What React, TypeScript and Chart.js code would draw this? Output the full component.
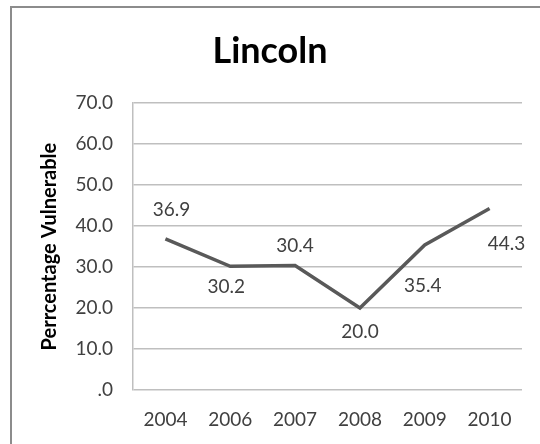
import React, { useEffect, useRef } from "react";
import { Chart, registerables } from "chart.js";

Chart.register(...registerables);

const categories = ["2004", "2006", "2007", "2008", "2009", "2010"];
const values = [36.9, 30.2, 30.4, 20.0, 35.4, 44.3];
const chartTitle = "Lincoln";
const yAxisTitle = "Perrcentage Vulnerable";
const yTickValues = [0, 10, 20, 30, 40, 50, 60, 70];

export default function App() {
  const ref = useRef<HTMLCanvasElement | null>(null);

  useEffect(() => {
    if (!ref.current) return;
    const labelOffsets = [
      [6, -29],
      [-4, 21],
      [0, -20],
      [0, 24],
      [-2, 41],
      [17, 35],
    ];
    const frame = {
      id: "frame",
      beforeDraw(chart: any) {
        const ctx = chart.ctx;
        ctx.save();
        ctx.fillStyle = "#ffffff";
        ctx.fillRect(0, 0, chart.width, chart.height);
        ctx.strokeStyle = "#8c8c8c";
        ctx.lineWidth = 2;
        ctx.strokeRect(11, 7, 700, 700);
        ctx.restore();
      },
    };
    const dataLabels = {
      id: "dataLabels",
      afterDatasetsDraw(chart: any) {
        const ctx = chart.ctx;
        const meta = chart.getDatasetMeta(0);
        ctx.save();
        ctx.font = "19px Lato";
        ctx.fillStyle = "#404040";
        ctx.textAlign = "center";
        ctx.textBaseline = "middle";
        meta.data.forEach((pt: any, i: number) => {
          const v = chart.data.datasets[0].data[i] as number;
          const [dx, dy] = labelOffsets[i];
          ctx.fillText(v.toFixed(1), pt.x + dx, pt.y + dy);
        });
        ctx.restore();
      },
    };
    const chart = new Chart(ref.current, {
      type: "line",
      data: {
        labels: categories,
        datasets: [
          {
            data: values,
            borderColor: "#595959",
            borderWidth: 3.5,
            pointRadius: 0,
            tension: 0,
            fill: false,
          },
        ],
      },
      options: {
        animation: false,
        responsive: false,
        layout: { padding: { top: 0, right: 18, bottom: 0, left: 18 } },
        plugins: {
          legend: { display: false },
          tooltip: { enabled: false },
          title: {
            display: true,
            text: chartTitle,
            color: "#000000",
            font: { family: "Lato", size: 36, weight: "bold", lineHeight: 1.2 },
            padding: { top: 30, bottom: 30 },
          },
        },
        scales: {
          x: {
            offset: true,
            grid: { display: false, drawTicks: false },
            border: { display: false },
            ticks: {
              color: "#404040",
              font: { family: "Lato", size: 19 },
              padding: 18,
              maxRotation: 0,
            },
            afterFit(scale: any) {
              scale.height = 54;
            },
          },
          y: {
            min: 0,
            max: 70,
            afterBuildTicks(scale: any) {
              scale.ticks = yTickValues.map((v) => ({ value: v }));
            },
            grid: { color: "#bfbfbf", lineWidth: 1.5, drawTicks: false },
            border: { display: true, color: "#bfbfbf", width: 1.5 },
            ticks: {
              color: "#404040",
              font: { family: "Lato", size: 19 },
              padding: 20,
              callback: (v: any) => (Number(v) === 0 ? ".0" : Number(v).toFixed(1)),
            },
            title: {
              display: true,
              text: yAxisTitle,
              color: "#000000",
              font: { family: "Lato", size: 20, weight: "bold", lineHeight: 1.2 },
              padding: { top: 20, bottom: 0 },
            },
            afterFit(scale: any) {
              scale.width = 115;
            },
          },
        },
      },
      plugins: [frame, dataLabels],
    });
    return () => chart.destroy();
  }, []);

  return (
    <div style={{ position: "absolute", left: 0, top: 0, width: 540, height: 444 }}>
      <canvas ref={ref} width={540} height={444} style={{ width: 540, height: 444 }} />
    </div>
  );
}
